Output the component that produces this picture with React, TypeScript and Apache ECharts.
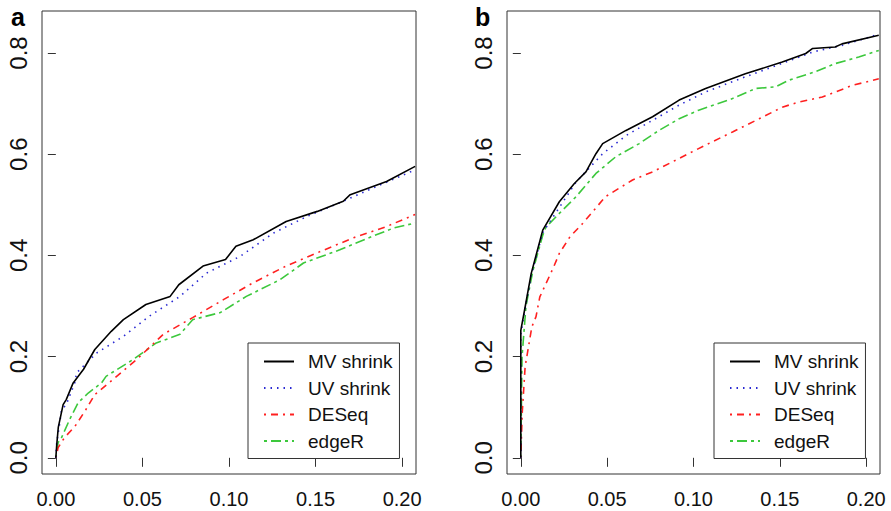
import React, { useEffect, useRef } from "react";
import * as echarts from "echarts";

const xTicks = [0, 0.05, 0.1, 0.15, 0.2];
const yTicks = [0, 0.2, 0.4, 0.6, 0.8];
const seriesNames = ["MV shrink", "UV shrink", "DESeq", "edgeR"];
const panelLabels = ["a", "b"];

// Panel a
const aMV = [[0,0],[0.0005,0.025],[0.0014,0.06],[0.0042,0.105],[0.006,0.115],[0.010,0.148],[0.016,0.175],[0.0225,0.214],[0.032,0.25],[0.039,0.273],[0.052,0.303],[0.066,0.319],[0.071,0.342],[0.085,0.379],[0.098,0.392],[0.104,0.418],[0.114,0.431],[0.133,0.467],[0.151,0.487],[0.166,0.507],[0.170,0.52],[0.191,0.546],[0.2075,0.576]];
const aUV = [[0,0],[0.0005,0.03],[0.0023,0.07],[0.0033,0.095],[0.006,0.105],[0.011,0.149],[0.012,0.168],[0.0235,0.207],[0.039,0.24],[0.054,0.28],[0.0717,0.319],[0.087,0.365],[0.1064,0.398],[0.1256,0.444],[0.145,0.477],[0.164,0.504],[0.183,0.533],[0.2075,0.569]];
const aDE = [[0,0],[0.0013,0.02],[0.005,0.04],[0.011,0.062],[0.0173,0.095],[0.0225,0.125],[0.031,0.149],[0.0466,0.194],[0.062,0.244],[0.079,0.277],[0.097,0.313],[0.114,0.346],[0.133,0.379],[0.153,0.408],[0.172,0.435],[0.191,0.457],[0.2075,0.481]];
const aER = [[0,0],[0.0013,0.03],[0.0033,0.04],[0.008,0.076],[0.0129,0.109],[0.0187,0.128],[0.0264,0.148],[0.029,0.161],[0.0445,0.194],[0.058,0.227],[0.0717,0.244],[0.079,0.273],[0.095,0.287],[0.110,0.319],[0.1295,0.352],[0.143,0.385],[0.164,0.411],[0.183,0.438],[0.195,0.454],[0.2075,0.464]];

// Panel b
const bMV = [[0,0],[0,0.252],[0.0025,0.298],[0.006,0.364],[0.0127,0.45],[0.0223,0.506],[0.031,0.542],[0.0377,0.565],[0.0435,0.601],[0.0474,0.621],[0.0609,0.647],[0.0763,0.674],[0.0917,0.707],[0.107,0.73],[0.130,0.759],[0.1514,0.782],[0.165,0.799],[0.169,0.809],[0.182,0.812],[0.186,0.818],[0.2073,0.835]];
const bUV = [[0,0],[0,0.245],[0.0025,0.295],[0.006,0.36],[0.0127,0.445],[0.032,0.545],[0.0474,0.601],[0.061,0.637],[0.0763,0.667],[0.0917,0.697],[0.107,0.723],[0.130,0.753],[0.151,0.779],[0.169,0.802],[0.186,0.815],[0.2073,0.837]];
const bDE = [[0,0],[0.0008,0.088],[0.0025,0.18],[0.0064,0.259],[0.0088,0.279],[0.011,0.318],[0.019,0.377],[0.0223,0.404],[0.0285,0.437],[0.0358,0.463],[0.049,0.516],[0.0647,0.549],[0.0763,0.565],[0.0936,0.595],[0.107,0.618],[0.1226,0.644],[0.138,0.67],[0.1514,0.693],[0.161,0.703],[0.1746,0.713],[0.192,0.736],[0.2073,0.749]];
const bER = [[0,0],[0.0007,0.2],[0.003,0.3],[0.007,0.37],[0.0127,0.44],[0.0146,0.456],[0.0223,0.483],[0.032,0.516],[0.0435,0.562],[0.055,0.595],[0.0686,0.621],[0.080,0.647],[0.0917,0.67],[0.103,0.687],[0.1226,0.71],[0.136,0.73],[0.1476,0.733],[0.155,0.746],[0.1705,0.763],[0.182,0.779],[0.1957,0.792],[0.2073,0.805]];

const panelData = [[aMV, aUV, aDE, aER], [bMV, bUV, bDE, bER]];

const colors = ["#000000", "#2a2ad2", "#ff2020", "#3cc83c"];
const dashes: any[] = ["solid", [1.5, 5], [2, 5, 7, 5], [3, 4, 10, 4]];

const FONT = "'Liberation Sans', Arial, Helvetica, sans-serif";

export default function App() {
  const ref = useRef<HTMLDivElement>(null);
  useEffect(() => {
    if (!ref.current) return;
    const chart = echarts.init(ref.current, undefined, { renderer: "svg" });
    const gridPos = [
      { left: 42, top: 11, width: 374, height: 463 },
      { left: 507, top: 11, width: 373, height: 463 },
    ];
    const legendPos = [
      { left: 248, top: 343 },
      { left: 714, top: 343 },
    ];
    const series: any[] = [];
    panelData.forEach((panel, p) => {
      panel.forEach((d, i) => {
        series.push({
          type: "line",
          name: seriesNames[i],
          xAxisIndex: p,
          yAxisIndex: p,
          data: d,
          showSymbol: false,
          symbol: "none",
          lineStyle: { color: colors[i], width: 1.6, type: dashes[i] },
          itemStyle: { color: colors[i] },
          z: 10 - i,
        });
      });
    });
    chart.setOption({
      animation: false,
      backgroundColor: "#ffffff",
      grid: gridPos.map((g) => ({ ...g, show: true, borderColor: "#333", borderWidth: 1, backgroundColor: "transparent" })),
      xAxis: [0, 1].map((p) => ({
        type: "value",
        gridIndex: p,
        min: -0.008,
        max: 0.208,
        splitLine: { show: false },
        axisLine: { show: false },
        axisTick: { show: true, length: 9, customValues: xTicks, lineStyle: { color: "#333" } },
        axisLabel: {
          customValues: xTicks,
          formatter: (v: number) => v.toFixed(2),
          fontSize: 20,
          color: "#111",
          fontFamily: FONT,
          margin: 15,
        },
      })),
      yAxis: [0, 1].map((p) => ({
        type: "value",
        gridIndex: p,
        min: -0.032,
        max: 0.883,
        splitLine: { show: false },
        axisLine: { show: false },
        axisTick: { show: true, length: 8, customValues: yTicks, lineStyle: { color: "#333" } },
        axisLabel: {
          customValues: yTicks,
          formatter: (v: number) => v.toFixed(1),
          fontSize: 24,
          color: "#111",
          fontFamily: FONT,
          rotate: 90,
          margin: 12,
        },
      })),
      legend: legendPos.map((l) => ({
        ...l,
        orient: "vertical",
        data: seriesNames,
        selectedMode: false,
        itemWidth: 30,
        itemHeight: 14,
        itemGap: 7.5,
        padding: [9, 7, 8, 15],
        borderColor: "#333",
        borderWidth: 1,
        backgroundColor: "#fff",
        itemStyle: { opacity: 0 },
        textStyle: { fontSize: 19, color: "#111", fontFamily: FONT, padding: [0, 0, 0, 9] },
      })),
      graphic: panelLabels.map((t, i) => ({
        type: "text",
        left: i === 0 ? 11 : 475,
        top: 4,
        style: { text: t, fontSize: 25, fontWeight: "bold", fill: "#000", fontFamily: FONT },
      })),
      series,
    });
    return () => chart.dispose();
  }, []);
  return (
    <div
      ref={ref}
      style={{ position: "fixed", left: 0, top: 0, width: 891, height: 511, background: "#fff" }}
    />
  );
}
